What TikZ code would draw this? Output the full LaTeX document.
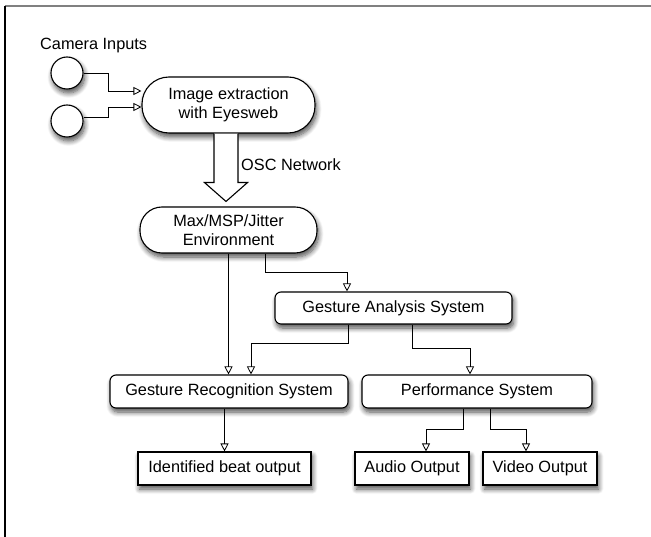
\documentclass[tikz,border=0pt]{standalone}
\usepackage{fontspec}
\setmainfont{Liberation Sans}
\usetikzlibrary{arrows.meta,shadows.blur,calc}
\begin{document}
\begin{tikzpicture}[x=1pt,y=-1pt,
  every node/.style={font=\fontsize{16.3}{19}\selectfont},
  sh/.style={blur shadow={shadow blur steps=8, shadow xshift=1.5pt, shadow yshift=-4pt, shadow opacity=70, shadow blur radius=5pt}},
  pill/.style={draw, fill=white, line width=1.1pt, rounded corners=22pt, align=center, inner sep=0pt, sh},
  rbox/.style={draw, fill=white, line width=1.1pt, rounded corners=6pt, inner sep=0pt, sh},
  sbox/.style={draw, fill=white, line width=1.1pt, inner sep=0pt, sh},
  cam/.style={draw, fill=white, circle, line width=1.1pt, minimum size=32pt, inner sep=0pt, sh},
  conn/.style={line width=0.8pt, -{Triangle[open,length=8pt,width=8pt]}},
  lbl/.style={anchor=west, inner sep=0pt},
]
\path[use as bounding box] (0,0) rectangle (651,537);
\draw[line width=1.3pt, gray] (5,6) -- (651,6);
\draw[line width=1.1pt, black] (5,6) -- (5,537);

\node[lbl] (camlbl) at (40,46) {Camera Inputs};
\node[cam] (c1) at (67,73) {};
\node[cam] (c2) at (67,121) {};
\node[pill, minimum width=173pt, minimum height=56pt, rounded corners=27pt] (img) at (228.5,105) {Image extraction\\with Eyesweb};
\node[pill, minimum width=177pt, minimum height=46pt] (max) at (228.5,230) {Max/MSP/Jitter\\Environment};
\node[rbox, minimum width=237pt, minimum height=32pt] (ga) at (393.5,308) {Gesture Analysis System};
\node[rbox, minimum width=238pt, minimum height=33pt] (gr) at (229,391.5) {Gesture Recognition System};
\node[rbox, minimum width=230pt, minimum height=33pt] (ps) at (477,391.5) {Performance System};
\node[sbox, minimum width=173pt, minimum height=33pt] (ib) at (224.5,468.5) {Identified beat output};
\node[sbox, minimum width=114pt, minimum height=33pt] (ao) at (412,468.5) {Audio Output};
\node[sbox, minimum width=114pt, minimum height=33pt] (vo) at (540,468.5) {Video Output};
\node[lbl] (osc) at (241,165) {OSC Network};

% camera connectors
\draw[conn] (c1.east) -- ++(25,0) |- ($(img.west)+(0,-14)$);
\draw[conn] ([yshift=4pt]c2.east) -- ++(25,0) |- ($(img.west)+(0,2)$);

% big hollow arrow
\coordinate (bt) at ($(img.south)+(-2.5,0)$);
\filldraw[line width=1.1pt, fill=white, line join=miter] ($(bt)+(-12,0)$) -- ++(0,49) -- ++(-9.5,0) -- ($(max.north)+(-2.5,-5)$) -- ($(bt)+(21.5,49)$) -- ++(-9.5,0) -- ($(bt)+(12,0)$);

% flow connectors
\draw[conn] (max.south) -- (max.south |- gr.north);
\draw[conn] ($(max.south)+(36.5,0)$) -- ++(0,19) -| ($(ga.north)+(-46.5,0)$);
\draw[conn] ($(ga.south)+(-45.5,0)$) -- ++(0,19) -| ($(gr.north)+(22,0)$);
\draw[conn] ($(ga.south)+(18.5,0)$) -- ++(0,24) -| ($(ps.north)+(-7,0)$);
\draw[conn] (ib.north |- gr.south) -- (ib.north);
\draw[conn] ($(ps.south)+(-14,0)$) -- ++(0,21) -| ($(ao.north)+(14,0)$);
\draw[conn] ($(ps.south)+(13,0)$) -- ++(0,21) -| ($(vo.north)+(-14,0)$);
\end{tikzpicture}
\end{document}
